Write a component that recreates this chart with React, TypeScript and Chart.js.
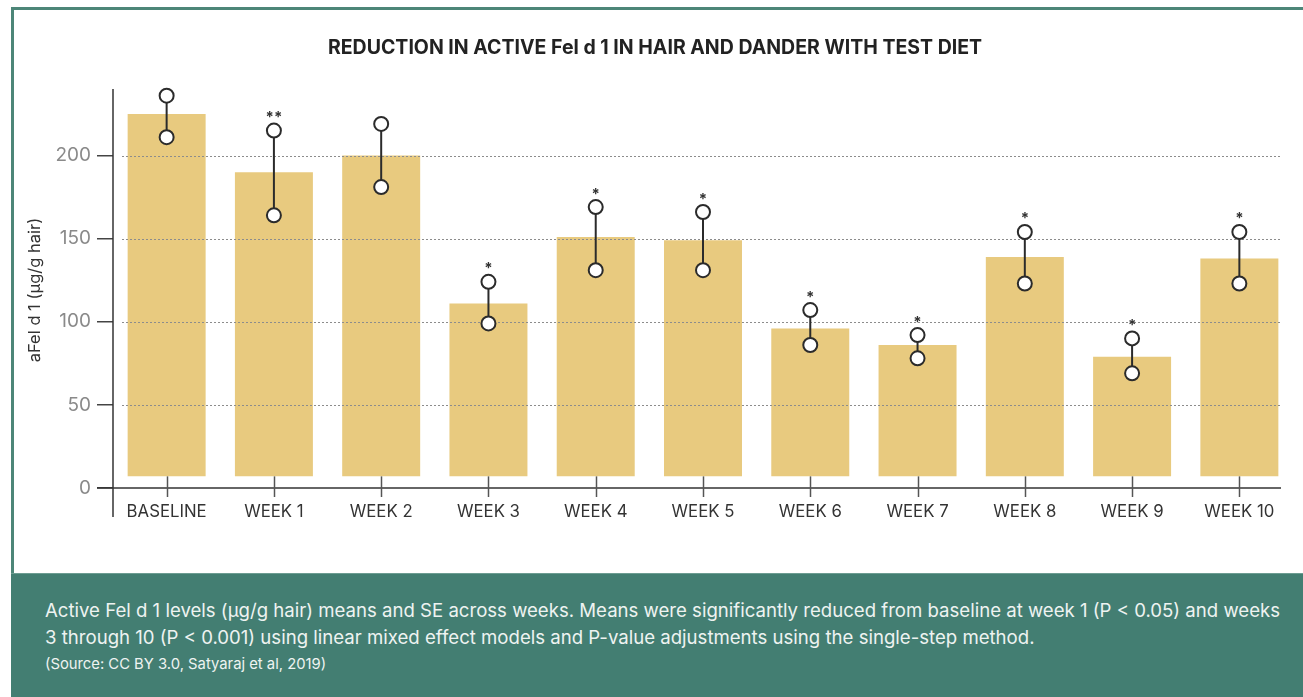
import React, { useEffect, useRef } from "react";
import { Chart, registerables } from "chart.js";

Chart.register(...registerables);

const CATEGORIES = ["BASELINE", "WEEK 1", "WEEK 2", "WEEK 3", "WEEK 4", "WEEK 5", "WEEK 6", "WEEK 7", "WEEK 8", "WEEK 9", "WEEK 10"];
const MEANS = [225, 190, 200, 111, 151, 149, 96, 86, 139, 79, 138];
const UPPER = [236, 215, 219, 124, 169, 166, 107, 92, 154, 90, 154];
const LOWER = [211, 164, 181, 99, 131, 131, 86, 78, 123, 69, 123];
const SIGNIF = ["", "**", "", "*", "*", "*", "*", "*", "*", "*", "*"];
const BAR_BASE = 7;
const Y_TICKS = [0, 50, 100, 150, 200];
const Y_MAX = 240;

const TITLE = "REDUCTION IN ACTIVE Fel d 1 IN HAIR AND DANDER WITH TEST DIET";
const Y_TITLE = "aFel d 1 (\u00b5g/g hair)";
const NOTE_1 = "Active Fel d 1 levels (\u00b5g/g hair) means and SE across weeks. Means were significantly reduced from baseline at week 1 (P < 0.05) and weeks";
const NOTE_2 = "3 through 10 (P < 0.001) using linear mixed effect models and P-value adjustments using the single-step method.";
const NOTE_3 = "(Source: CC BY 3.0, Satyaraj et al, 2019)";

const FONT = "Inter, 'Noto Sans', sans-serif";
const TEAL = "#437e72";
const DARK = "#2b2b2b";

const decorPlugin = {
  id: "decor",
  afterDatasetsDraw(chart: any) {
    const ctx = chart.ctx;
    const x = chart.scales.x;
    const y = chart.scales.y;
    const area = chart.chartArea;
    const zeroY = y.getPixelForValue(0);
    ctx.save();
    // dotted grid lines over bars
    ctx.strokeStyle = "#8c8c8c";
    ctx.lineWidth = 1;
    ctx.setLineDash([2, 2]);
    Y_TICKS.forEach((v) => {
      if (v === 0) return;
      const py = Math.round(y.getPixelForValue(v)) + 0.5;
      ctx.beginPath();
      ctx.moveTo(area.left + 9, py);
      ctx.lineTo(area.right - 11, py);
      ctx.stroke();
    });
    ctx.setLineDash([]);
    // axes lines
    ctx.strokeStyle = "#333";
    ctx.lineWidth = 1.5;
    ctx.beginPath();
    ctx.moveTo(area.left, y.getPixelForValue(Y_MAX));
    ctx.lineTo(area.left, zeroY + 29);
    ctx.stroke();
    ctx.beginPath();
    ctx.moveTo(area.left - 16, zeroY);
    ctx.lineTo(area.right - 12, zeroY);
    ctx.stroke();
    // x tick marks
    ctx.strokeStyle = "#555";
    CATEGORIES.forEach((_, i) => {
      const px = Math.round(x.getPixelForValue(i)) + 0.5;
      ctx.beginPath();
      ctx.moveTo(px, y.getPixelForValue(BAR_BASE));
      ctx.lineTo(px, zeroY + 9);
      ctx.stroke();
    });
    // error bars
    CATEGORIES.forEach((_, i) => {
      const px = x.getPixelForValue(i);
      const hi = y.getPixelForValue(UPPER[i]);
      const lo = y.getPixelForValue(LOWER[i]);
      ctx.strokeStyle = DARK;
      ctx.lineWidth = 2;
      ctx.beginPath();
      ctx.moveTo(px, hi);
      ctx.lineTo(px, lo);
      ctx.stroke();
      [hi, lo].forEach((cy) => {
        ctx.beginPath();
        ctx.arc(px, cy, 7, 0, Math.PI * 2);
        ctx.fillStyle = "#fff";
        ctx.fill();
        ctx.stroke();
      });
      if (SIGNIF[i]) {
        ctx.fillStyle = "#333";
        ctx.font = "bold 15px " + FONT;
        ctx.textAlign = "center";
        ctx.textBaseline = "middle";
        ctx.fillText(SIGNIF[i], px, hi - 13);
      }
    });
    // title
    ctx.fillStyle = "#222";
    ctx.font = "bold 19.5px " + FONT;
    ctx.textAlign = "center";
    ctx.textBaseline = "middle";
    ctx.fillText(TITLE, 641, 38);
    // y axis title
    ctx.save();
    ctx.translate(21, 280);
    ctx.rotate(-Math.PI / 2);
    ctx.fillStyle = "#333";
    ctx.font = "16.5px " + FONT;
    ctx.fillText(Y_TITLE, 0, 0);
    ctx.restore();
    ctx.restore();
  },
};

export default function App() {
  const ref = useRef<HTMLCanvasElement>(null);
  useEffect(() => {
    const prevMargin = document.body.style.margin;
    document.body.style.margin = "0";
    const chart = new Chart(ref.current as HTMLCanvasElement, {
      type: "bar",
      data: {
        labels: CATEGORIES,
        datasets: [
          {
            data: MEANS.map((m) => [BAR_BASE, m]) as any,
            backgroundColor: "#e8ca7f",
            borderWidth: 0,
            barPercentage: 0.727,
            categoryPercentage: 1,
          },
        ],
      },
      options: {
        animation: false,
        responsive: false,
        maintainAspectRatio: false,
        layout: { padding: { top: 79, left: 0, right: 10, bottom: 0 } },
        plugins: { legend: { display: false }, tooltip: { enabled: false }, title: { display: false } },
        scales: {
          x: {
            grid: { display: false, drawTicks: false },
            border: { display: false },
            ticks: { color: "#333", font: { family: FONT, size: 16.8 }, padding: 14, maxRotation: 0, autoSkip: false },
            afterFit: (s: any) => {
              s.height = 85;
            },
          },
          y: {
            min: 0,
            max: Y_MAX,
            border: { display: false },
            grid: { drawOnChartArea: false, drawTicks: true, tickLength: 16, color: "#444", lineWidth: 1.5 },
            ticks: { color: "#8a8a8a", font: { family: FONT, size: 19 }, padding: 6 },
            afterBuildTicks: (s: any) => {
              s.ticks = Y_TICKS.map((v) => ({ value: v }));
            },
            afterFit: (s: any) => {
              s.width = 99;
            },
          },
        },
      },
      plugins: [decorPlugin],
    });
    return () => {
      chart.destroy();
      document.body.style.margin = prevMargin;
    };
  }, []);

  return (
    <div style={{ position: "absolute", left: 0, top: 0, width: 1303, height: 697, background: "#fff", overflow: "hidden", fontFamily: FONT }}>
      <div style={{ position: "absolute", left: 11, top: 7, width: 1400, height: 566, borderLeft: "3px solid #4d8678", borderTop: "3px solid #4d8678", boxSizing: "border-box" }} />
      <canvas ref={ref} width={1289} height={563} style={{ position: "absolute", left: 14, top: 10, width: 1289, height: 563 }} />
      <div style={{ position: "absolute", left: 11, top: 573, width: 1292, height: 124, background: TEAL, borderTop: "1px solid #6d9d92", boxSizing: "border-box" }}>
        <div style={{ position: "absolute", left: 34, top: 23, color: "#eef3f1", fontSize: 18.6, lineHeight: "27px", whiteSpace: "nowrap" }}>
          <div>{NOTE_1}</div>
          <div>{NOTE_2}</div>
          <div style={{ fontSize: 14.8, lineHeight: "27px" }}>{NOTE_3}</div>
        </div>
      </div>
    </div>
  );
}
